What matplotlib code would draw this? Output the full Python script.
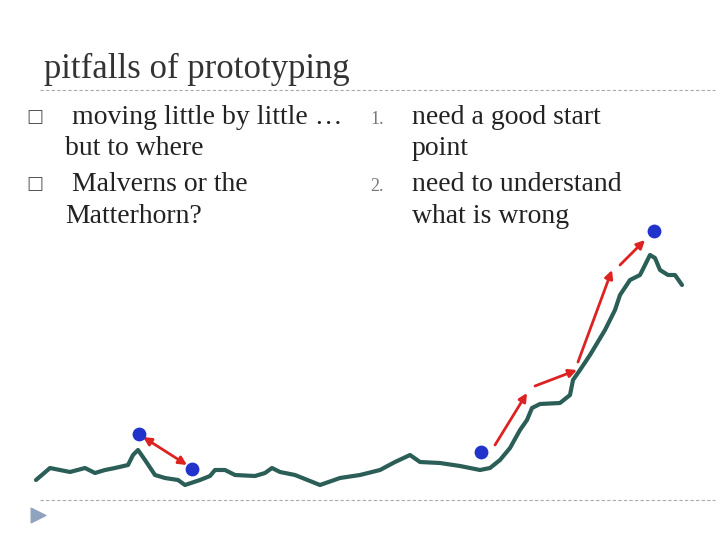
import matplotlib.pyplot as plt

# mountain profile in slide pixel coordinates
ridge_x = [36, 50, 60, 70, 85, 95, 105, 115, 128, 133, 138, 145, 155, 165, 178, 185, 200, 210, 215,
           225, 235, 255, 265, 272, 280, 295, 320, 340, 360, 380, 395, 410, 420, 440, 460, 480, 490,
           500, 510, 520, 527, 532, 540, 560, 570, 573, 580, 590, 605, 615, 620, 630, 640, 645, 650,
           655, 660, 668, 675, 682]
ridge_y = [480, 468, 470, 472, 468, 473, 470, 468, 465, 455, 450, 460, 475, 478, 480, 485, 480, 476,
           470, 470, 475, 476, 473, 468, 472, 475, 485, 478, 475, 470, 462, 455, 462, 463, 466, 470,
           468, 460, 448, 430, 420, 408, 404, 403, 395, 380, 370, 355, 330, 310, 295, 280, 275, 265,
           255, 258, 270, 275, 275, 285]

dots_x = [139, 192, 481, 654]
dots_y = [434, 469, 452, 231]

# arrows: start, end, double-headed?
arrows = [((187, 465), (143, 437), True),
          ((495, 445), (527, 393), False),
          ((535, 386), (577, 370), False),
          ((578, 362), (612, 270), False),
          ((620, 265), (645, 240), False)]

fig = plt.figure(figsize=(7.2, 5.4), dpi=100)
ax = fig.add_axes([0, 0, 1, 1])
ax.set_xlim(0, 720)
ax.set_ylim(540, 0)
ax.axis('off')

serif = 'Liberation Serif'
ax.text(44, 78, 'pitfalls of prototyping', fontsize=25, family=serif, color='#333333', va='baseline')
for y in (90, 500):
    ax.plot([40, 715], [y, y], ls=(0, (3, 2)), color='#aaaaaa', lw=0.8)
ax.scatter([38], [515], marker='>', s=110, color='#8fa3bf')

left = [(124, '\u25a1', 'moving little by little \u2026'), (155, '', 'but to where'),
        (191, '\u25a1', 'Malverns or the'), (223, '', 'Matterhorn?')]
for y, b, t in left:
    if b:
        ax.text(26, y - 2, b, fontsize=13, family='DejaVu Sans', color='#555555', va='baseline')
        ax.text(72, y, t, fontsize=20, family=serif, color='#222222', va='baseline')
    else:
        ax.text(65, y, t, fontsize=20, family=serif, color='#222222', va='baseline')

right = [(124, '1.', 'need a good start'), (155, '', 'point'),
         (191, '2.', 'need to understand'), (223, '', 'what is wrong')]
for y, n, t in right:
    if n:
        ax.text(370, y, n, fontsize=13, family=serif, color='#777777', va='baseline')
    ax.text(412, y, t, fontsize=20, family=serif, color='#222222', va='baseline')

ax.plot(ridge_x, ridge_y, color='#2b5e57', lw=3, solid_joinstyle='round', solid_capstyle='round')
for (x0, y0), (x1, y1), both in arrows:
    ax.annotate('', xy=(x1, y1), xytext=(x0, y0),
                arrowprops=dict(arrowstyle='<|-|>' if both else '-|>', color='#dd2222', lw=2,
                                mutation_scale=12, shrinkA=0, shrinkB=0))
ax.scatter(dots_x, dots_y, s=80, color='#2233cc', zorder=5)

fig.savefig('out.png', dpi=100)
